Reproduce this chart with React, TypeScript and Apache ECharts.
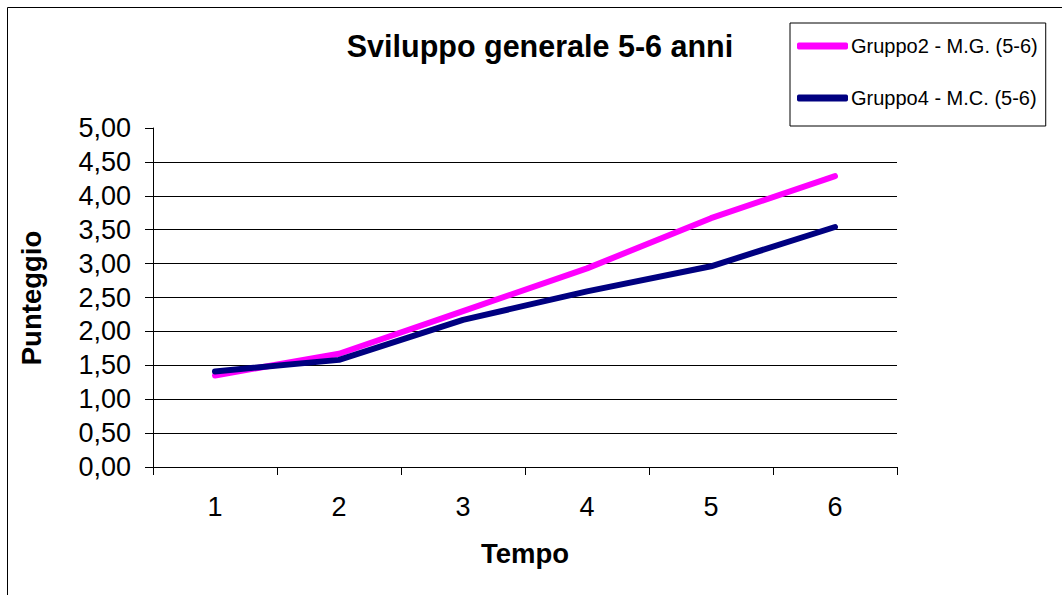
import React, { useEffect, useRef } from "react";
import * as echarts from "echarts";

const categories = ["1", "2", "3", "4", "5", "6"];
const gruppo2 = [1.35, 1.67, 2.3, 2.93, 3.67, 4.29];
const gruppo4 = [1.41, 1.58, 2.17, 2.59, 2.96, 3.54];
const seriesNames = ["Gruppo2 - M.G. (5-6)", "Gruppo4 - M.C. (5-6)"];
const titleText = "Sviluppo generale 5-6 anni";
const xName = "Tempo";
const yName = "Punteggio";

const FONT = "'Liberation Sans', Arial, sans-serif";

export default function App() {
  const ref = useRef<HTMLDivElement>(null);
  useEffect(() => {
    if (!ref.current) return;
    const chart = echarts.init(ref.current, null, { renderer: "svg" });
    chart.setOption({
      animation: false,
      backgroundColor: "#ffffff",
      textStyle: { fontFamily: FONT, color: "#000" },
      title: {
        text: titleText,
        left: 540,
        top: 30,
        textAlign: "center",
        padding: 0,
        textStyle: { fontFamily: FONT, fontSize: 30.5, fontWeight: "bold", color: "#000" },
      },
      legend: {
        orient: "vertical",
        left: 790,
        top: 23,
        padding: [12, 8, 17, 7],
        itemGap: 30,
        itemWidth: 51,
        itemHeight: 7,
        icon: "roundRect",
        borderColor: "#000",
        borderWidth: 1,
        borderRadius: 0,
        textStyle: { fontFamily: FONT, fontSize: 20, color: "#000", padding: [0, 0, 0, -2], lineHeight: 22 },
        data: seriesNames,
      },
      grid: { left: 153, right: 165, top: 128, bottom: 128, containLabel: false },
      xAxis: {
        type: "category",
        data: categories,
        boundaryGap: true,
        axisLine: { show: true, lineStyle: { color: "#000", width: 1 } },
        axisTick: { show: true, length: 8, inside: false, lineStyle: { color: "#000" } },
        axisLabel: { fontFamily: FONT, fontSize: 27, color: "#000", margin: 26 },
        splitLine: { show: false },
      },
      yAxis: {
        type: "value",
        min: 0,
        max: 5,
        interval: 0.5,
        axisLine: { show: true, lineStyle: { color: "#000", width: 1 } },
        axisTick: { show: true, length: 8, lineStyle: { color: "#000" } },
        axisLabel: {
          fontFamily: FONT,
          fontSize: 27,
          color: "#000",
          margin: 22,
          formatter: (v: number) => v.toFixed(2).replace(".", ","),
        },
        splitLine: { show: true, showMaxLine: false, lineStyle: { color: "#000", width: 1 } },
      },
      graphic: [
        {
          type: "rect",
          shape: { x: 7.5, y: 7.5, width: 1100, height: 700 },
          style: { fill: "none", stroke: "#000", lineWidth: 1 },
          silent: true,
          z: -10,
        },
        {
          type: "text",
          x: 525,
          y: 553,
          style: {
            text: xName,
            fontFamily: FONT,
            fontSize: 27.5,
            fontWeight: "bold",
            fill: "#000",
            textAlign: "center",
            textVerticalAlign: "middle",
          },
        },
        {
          type: "text",
          x: 31,
          y: 298,
          rotation: Math.PI / 2,
          style: {
            text: yName,
            fontFamily: FONT,
            fontSize: 27.5,
            fontWeight: "bold",
            fill: "#000",
            textAlign: "center",
            textVerticalAlign: "middle",
          },
        },
      ],
      series: [
        {
          name: seriesNames[0],
          type: "line",
          data: gruppo2,
          symbol: "none",
          color: "#FF00FF",
          lineStyle: { color: "#FF00FF", width: 6, cap: "round", join: "round" },
        },
        {
          name: seriesNames[1],
          type: "line",
          data: gruppo4,
          symbol: "none",
          color: "#000080",
          lineStyle: { color: "#000080", width: 6, cap: "round", join: "round" },
        },
      ],
    });
    return () => chart.dispose();
  }, []);
  return (
    <div
      ref={ref}
      style={{ position: "absolute", left: 0, top: 0, width: 1062, height: 595 }}
    />
  );
}
